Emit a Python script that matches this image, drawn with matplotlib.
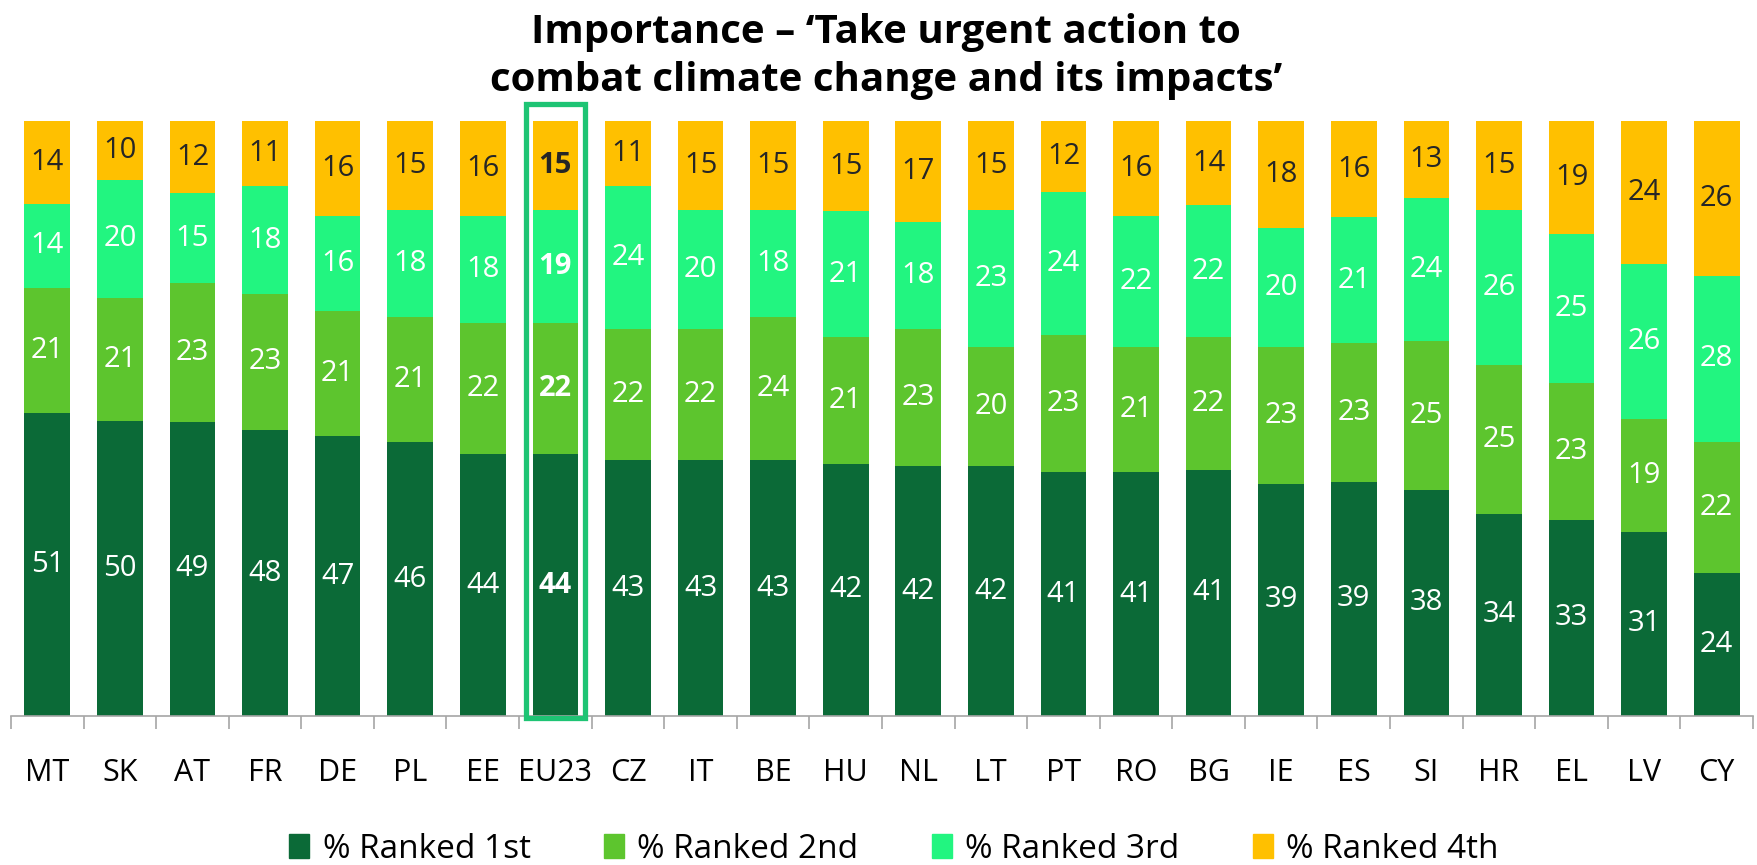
import matplotlib
matplotlib.use('Agg')
import matplotlib.pyplot as plt
from matplotlib.patches import Rectangle
import numpy as np

plt.rcParams['font.family'] = ['Open Sans', 'DejaVu Sans']

countries = ['MT', 'SK', 'AT', 'FR', 'DE', 'PL', 'EE', 'EU23', 'CZ', 'IT', 'BE', 'HU',
             'NL', 'LT', 'PT', 'RO', 'BG', 'IE', 'ES', 'SI', 'HR', 'EL', 'LV', 'CY']
ranked_1st = [51, 50, 49, 48, 47, 46, 44, 44, 43, 43, 43, 42, 42, 42, 41, 41, 41, 39, 39, 38, 34, 33, 31, 24]
ranked_2nd = [21, 21, 23, 23, 21, 21, 22, 22, 22, 22, 24, 21, 23, 20, 23, 21, 22, 23, 23, 25, 25, 23, 19, 22]
ranked_3rd = [14, 20, 15, 18, 16, 18, 18, 19, 24, 20, 18, 21, 18, 23, 24, 22, 22, 20, 21, 24, 26, 25, 26, 28]
ranked_4th = [14, 10, 12, 11, 16, 15, 16, 15, 11, 15, 15, 15, 17, 15, 12, 16, 14, 18, 16, 13, 15, 19, 24, 26]
series_names = ['% Ranked 1st', '% Ranked 2nd', '% Ranked 3rd', '% Ranked 4th']
highlight = 'EU23'

colors = ['#0B6A37', '#5DC52E', '#22F580', '#FFC000']
text_colors = ['white', 'white', 'white', '#262626']

W, H = 1758, 865
fig = plt.figure(figsize=(W / 100, H / 100), dpi=100)
ax = fig.add_axes([11 / W, (H - 716) / H, (1753 - 11) / W, (716 - 121) / H])

series = np.array([ranked_1st, ranked_2nd, ranked_3rd, ranked_4th], dtype=float)
totals = series.sum(axis=0)
shares = series / totals * 100
x = np.arange(len(countries))
bottom = np.zeros(len(countries))
for i in range(4):
    ax.bar(x, shares[i], 0.63, bottom=bottom, color=colors[i], label=series_names[i],
           edgecolor='none', zorder=2)
    for j in range(len(countries)):
        bold = countries[j] == highlight
        ax.text(x[j], bottom[j] + shares[i][j] / 2, f'{int(series[i][j])}',
                ha='center', va='center', color=text_colors[i], fontsize=21,
                fontweight='bold' if bold else 'normal', zorder=3)
    bottom += shares[i]

hi = countries.index(highlight)
ax.add_patch(Rectangle((hi - 0.41, -0.4), 0.82, 103.3, fill=False,
                       edgecolor='#1EC474', linewidth=3.8, clip_on=False, zorder=4))

ax.set_xlim(-0.5, len(countries) - 0.5)
ax.set_ylim(0, 100)
ax.set_xticks(x)
ax.set_xticklabels(countries, fontsize=22, color='black')
ax.set_xticks(np.arange(-0.5, len(countries), 1), minor=True)
ax.tick_params(axis='x', which='major', length=0, pad=30)
ax.tick_params(axis='x', which='minor', length=9, color='#A6A6A6', width=1.2)
ax.set_yticks([])
for s in ['top', 'right', 'left']:
    ax.spines[s].set_visible(False)
ax.spines['bottom'].set_color('#A6A6A6')
ax.spines['bottom'].set_linewidth(1.2)

handles = [Rectangle((0, 0), 1, 1, color=c) for c in colors]
fig.legend(handles, series_names, loc='center', bbox_to_anchor=(894 / W, 1 - 849 / H),
           ncol=4, frameon=False, fontsize=24, handlelength=0.6, handleheight=0.7,
           handletextpad=0.4, columnspacing=2.2)

fig.text(0.504, 1 - 56 / H,
         'Importance – ‘Take urgent action to\ncombat climate change and its impacts’',
         ha='center', va='center', fontsize=29, fontweight='bold', linespacing=1.3)

fig.savefig('out.png', dpi=100)
